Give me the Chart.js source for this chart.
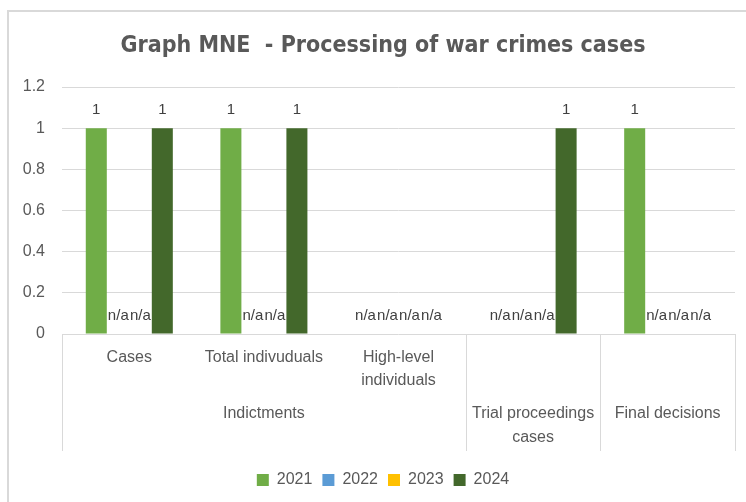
<!DOCTYPE html>
<html>
<head>
<meta charset="utf-8">
<script src="https://cdn.jsdelivr.net/npm/chart.js@4/dist/chart.umd.min.js"></script>
<style>
  html, body { margin: 0; padding: 0; background: #fff; overflow: hidden; }
  #wrap { position: relative; width: 746px; height: 502px; }
</style>
</head>
<body>
<div id="wrap"><canvas id="warCrimesChart" width="746" height="502"></canvas></div>
<script>
// ------------------ Data ------------------
const categories = ["Cases", "Total indivuduals", "High-level individuals", "Trial proceedings cases", "Final decisions"];
const subLabels = [["Cases"], ["Total indivuduals"], ["High-level", "individuals"], [], []];
const groupLabels = [["Indictments"], ["Trial proceedings", "cases"], ["Final decisions"]];
const groupSpans = [3, 1, 1];
const years = ["2021", "2022", "2023", "2024"];
// null = "n/a" in the source table
const values2021 = [1, 1, null, null, 1];
const values2022 = [null, null, null, null, null];
const values2023 = [null, null, null, null, null];
const values2024 = [1, 1, null, 1, null];
const yTicks = [0, 0.2, 0.4, 0.6, 0.8, 1, 1.2];

const seriesColors = ["#70AD47", "#5B9BD5", "#FFC000", "#43682B"];
const TEXT = "#595959";
const LINE = "#d9d9d9";
const SANS = "'Liberation Sans', Arial, sans-serif";
const NARROW = "'Liberation Sans Narrow', 'DejaVu Sans Condensed', sans-serif";

// ------------------ Plugins ------------------
// outer frame of the chart (Excel chart area border)
const chartFrame = {
    id: "chartFrame",
    beforeDraw(chart) {
        const ctx = chart.ctx;
        ctx.save();
        ctx.fillStyle = "#fff";
        ctx.fillRect(0, 0, chart.width, chart.height);
        ctx.strokeStyle = LINE;
        ctx.lineWidth = 2;
        ctx.strokeRect(8, 11, chart.width + 20, chart.height + 20);
        ctx.restore();
    }
};

// "1" above bars and "n/a" for missing values
const valueLabels = {
    id: "valueLabels",
    afterDatasetsDraw(chart) {
        const ctx = chart.ctx;
        ctx.save();
        ctx.font = "15px " + SANS;
        ctx.fillStyle = "#404040";
        ctx.textAlign = "center";
        ctx.textBaseline = "middle";
        chart.data.datasets.forEach((ds, di) => {
            chart.getDatasetMeta(di).data.forEach((bar, i) => {
                const v = ds.data[i];
                ctx.fillText(v == null ? "n/a" : String(v), bar.x, bar.y - 18);
            });
        });
        ctx.restore();
    }
};

// two-level category axis like Excel's
const multiLevelAxis = {
    id: "multiLevelAxis",
    afterDraw(chart) {
        const x = chart.scales.x;
        const top = chart.chartArea.bottom;
        const ctx = chart.ctx;
        const half = (x.getPixelForValue(1) - x.getPixelForValue(0)) / 2;
        const edge = i => x.getPixelForValue(i) - half;

        ctx.save();
        ctx.strokeStyle = LINE;
        ctx.lineWidth = 1;
        const bounds = [0];
        groupSpans.forEach(s => bounds.push(bounds[bounds.length - 1] + s));
        bounds.forEach(b => {
            const px = Math.round(edge(b)) + 0.5;
            ctx.beginPath();
            ctx.moveTo(px, top);
            ctx.lineTo(px, top + 117);
            ctx.stroke();
        });

        ctx.font = "16px " + SANS;
        ctx.fillStyle = TEXT;
        ctx.textAlign = "center";
        ctx.textBaseline = "middle";
        subLabels.forEach((lines, i) => {
            lines.forEach((t, k) => ctx.fillText(t, x.getPixelForValue(i), top + 24 + k * 23));
        });
        groupLabels.forEach((lines, g) => {
            const cx = (edge(bounds[g]) + edge(bounds[g + 1])) / 2;
            lines.forEach((t, k) => ctx.fillText(t, cx, top + 80 + k * 24));
        });
        ctx.restore();
    }
};

// ------------------ Chart ------------------
const seriesValues = [values2021, values2022, values2023, values2024];

new Chart(document.getElementById("warCrimesChart"), {
    type: "bar",
    data: {
        labels: categories,
        datasets: years.map((yr, i) => ({
            label: yr,
            data: seriesValues[i],
            backgroundColor: seriesColors[i],
            borderWidth: 0,
            categoryPercentage: 0.654,
            barPercentage: 0.955
        }))
    },
    options: {
        responsive: false,
        animation: false,
        layout: { padding: { left: 20, right: 0, top: 0, bottom: 4 } },
        plugins: {
            title: {
                display: true,
                text: "Graph MNE  - Processing of war crimes cases",
                color: TEXT,
                font: { family: NARROW, size: 23, weight: "bold" },
                padding: { top: 32, bottom: 27.4 }
            },
            legend: {
                position: "bottom",
                labels: {
                    boxWidth: 12,
                    boxHeight: 12,
                    padding: 10,
                    color: TEXT,
                    font: { family: SANS, size: 16 }
                }
            },
            tooltip: { enabled: false }
        },
        scales: {
            x: {
                grid: { display: false },
                border: { display: false },
                ticks: { display: false },
                afterFit(s) { s.height = 128; }
            },
            y: {
                min: 0,
                max: 1.2,
                afterBuildTicks(s) { s.ticks = yTicks.map(v => ({ value: v })); },
                grid: { color: LINE, drawTicks: false },
                border: { display: false },
                ticks: {
                    padding: 17,
                    color: TEXT,
                    font: { family: SANS, size: 16 },
                    callback: v => String(v)
                },
                afterFit(s) { s.width = 42; }
            },
            yRight: {
                position: "right",
                grid: { display: false },
                border: { display: false },
                ticks: { display: false },
                afterFit(s) { s.width = 11; }
            }
        }
    },
    plugins: [chartFrame, valueLabels, multiLevelAxis]
});
</script>
</body>
</html>
